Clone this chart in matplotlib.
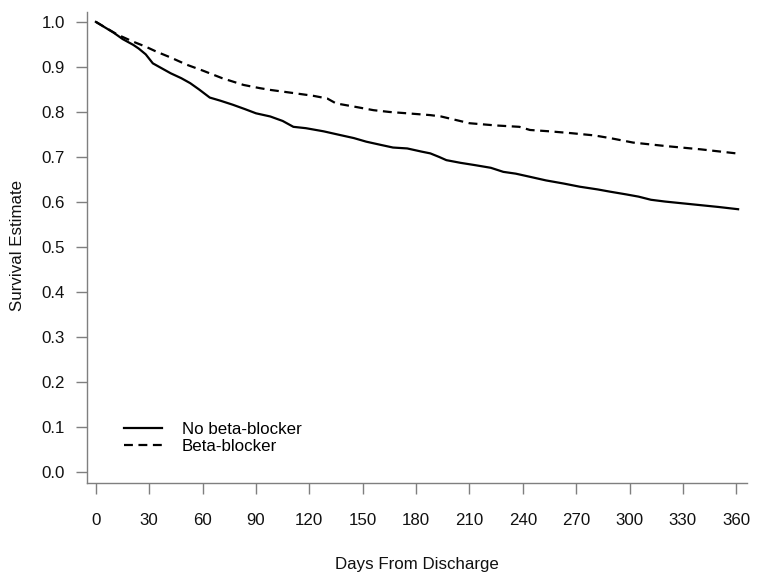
import matplotlib
matplotlib.use("Agg")
import matplotlib.pyplot as plt

plt.rcParams['font.family'] = ['Liberation Sans', 'DejaVu Sans']

# Days from discharge / survival estimates
no_bb_days = [0, 5, 10, 15, 21, 24, 28, 32, 37, 42, 48, 53, 58, 64, 70, 77, 84, 90, 98, 105,
              111, 118, 128, 137, 145, 152, 160, 167, 175, 183, 188, 193, 197, 205, 213, 222,
              229, 236, 244, 253, 263, 272, 282, 289, 298, 305, 312, 320, 330, 340, 350, 361]
no_bb_surv = [1.0, 0.988, 0.976, 0.962, 0.949, 0.941, 0.928, 0.908, 0.897, 0.886, 0.875, 0.864,
              0.850, 0.832, 0.825, 0.816, 0.806, 0.797, 0.790, 0.780, 0.767, 0.764, 0.757, 0.749,
              0.742, 0.734, 0.727, 0.721, 0.719, 0.712, 0.708, 0.700, 0.693, 0.687, 0.682, 0.676,
              0.667, 0.663, 0.656, 0.648, 0.641, 0.634, 0.628, 0.623, 0.617, 0.612, 0.605, 0.601,
              0.597, 0.593, 0.589, 0.584]

bb_days = [0, 6, 12, 21, 28, 34, 42, 51, 60, 71, 83, 92, 98, 111, 122, 130, 135, 145, 156, 165,
           175, 188, 194, 210, 225, 238, 244, 255, 267, 280, 289, 302, 321, 340, 360]
bb_surv = [1.0, 0.986, 0.972, 0.956, 0.945, 0.934, 0.921, 0.905, 0.892, 0.875, 0.860, 0.853,
           0.849, 0.842, 0.836, 0.830, 0.819, 0.812, 0.804, 0.800, 0.797, 0.793, 0.790, 0.775,
           0.770, 0.767, 0.760, 0.757, 0.753, 0.748, 0.742, 0.732, 0.724, 0.717, 0.708]

x_ticks = list(range(0, 361, 30))
y_ticks = [0.0, 0.1, 0.2, 0.3, 0.4, 0.5, 0.6, 0.7, 0.8, 0.9, 1.0]
labels = ["No beta-blocker", "Beta-blocker"]

FS = 12.2
W, H = 762, 582
fig = plt.figure(figsize=(W / 100, H / 100), dpi=100)
ax = fig.add_axes([87 / W, 1 - 483 / H, (747 - 87) / W, (483 - 12) / H])

ax.plot(no_bb_days, no_bb_surv, color='black', lw=1.6, ls='-', label=labels[0])
ax.plot(bb_days, bb_surv, color='black', lw=1.6, ls=(0, (4, 2.5)), label=labels[1])

ax.set_xlim(-5, 366)
ax.set_ylim(-0.024, 1.022)

for s in ['top', 'right']:
    ax.spines[s].set_visible(False)
for s in ['left', 'bottom']:
    ax.spines[s].set_color('#7f7f7f')
    ax.spines[s].set_linewidth(1.0)

ax.set_xticks(x_ticks)
ax.set_xticklabels([str(t) for t in x_ticks])
ax.set_yticks(y_ticks)
ax.set_yticklabels([f"{v:.1f}" for v in y_ticks])
ax.tick_params(axis='both', which='major', length=8, width=1.0, color='#7f7f7f',
               labelsize=FS, labelcolor='#111111')
ax.tick_params(axis='y', pad=8)
ax.tick_params(axis='x', pad=13.5)

fig.text(18 / W, 1 - 245 / H, "Survival Estimate", rotation=90, ha='center', va='center',
         fontsize=FS, color='#111111')
fig.text(417 / W, 1 - 565 / H, "Days From Discharge", ha='center', va='center',
         fontsize=FS, color='#111111')

ax.legend(loc='upper left', bbox_to_anchor=(124 / W, 1 - 422 / H),
          bbox_transform=fig.transFigure, frameon=False, fontsize=FS,
          handlelength=2.25, handletextpad=1.18, labelspacing=0.13,
          borderpad=0, borderaxespad=0)

fig.savefig("out.png", dpi=100)
